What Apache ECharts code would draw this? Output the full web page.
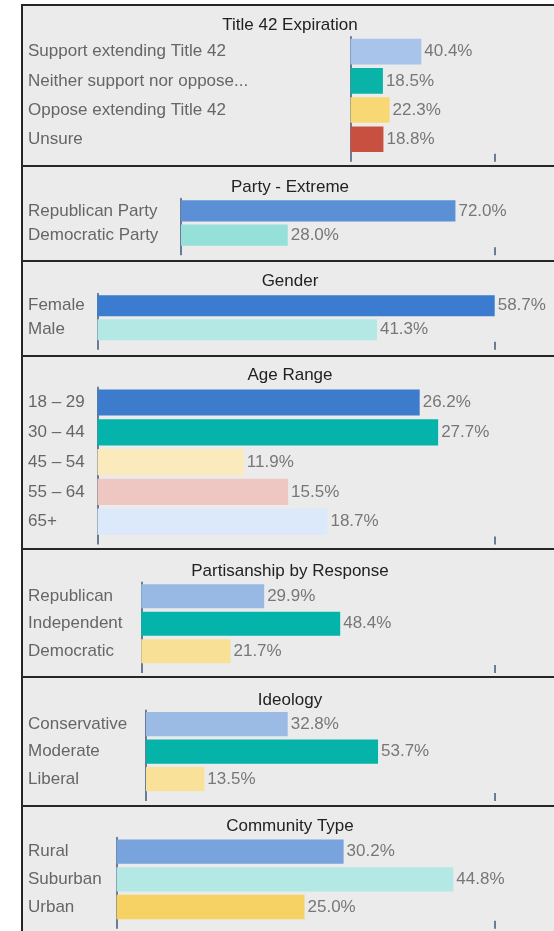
<!DOCTYPE html>
<html><head><meta charset="utf-8">
<script src="https://cdn.jsdelivr.net/npm/echarts@6/dist/echarts.min.js"></script>
<style>html,body{margin:0;padding:0;background:#fff}#c{width:554px;height:931px}</style>
</head><body><div id="c"></div>
<script>
// ---- data ----
const panelTitles = ["Title 42 Expiration","Party - Extreme","Gender","Age Range","Partisanship by Response","Ideology","Community Type"];

const title42Cats = ["Support extending Title 42","Neither support nor oppose...","Oppose extending Title 42","Unsure"];
const title42Vals = [40.4, 18.5, 22.3, 18.8];

const partyCats = ["Republican Party","Democratic Party"];
const partyVals = [72.0, 28.0];

const genderCats = ["Female","Male"];
const genderVals = [58.7, 41.3];

const ageCats = ["18 \u2013 29","30 \u2013 44","45 \u2013 54","55 \u2013 64","65+"];
const ageVals = [26.2, 27.7, 11.9, 15.5, 18.7];

const partisanCats = ["Republican","Independent","Democratic"];
const partisanVals = [29.9, 48.4, 21.7];

const ideologyCats = ["Conservative","Moderate","Liberal"];
const ideologyVals = [32.8, 53.7, 13.5];

const communityCats = ["Rural","Suburban","Urban"];
const communityVals = [30.2, 44.8, 25.0];

// ---- styles ----
const title42Colors = ["#a8c4ea","#0ab3a8","#f8d874","#c85040"];
const partyColors = ["#5b8fd6","#96e0da"];
const genderColors = ["#3b7bd0","#b3e8e4"];
const ageColors = ["#3d7ccc","#04b3a9","#fbeabb","#eec7c3","#dbe9fa"];
const partisanColors = ["#98b9e4","#04b3a9","#f8e196"];
const ideologyColors = ["#9bbae4","#05b3a8","#f9e19a"];
const communityColors = ["#78a3dc","#b3e8e4","#f6d264"];

// ---- layout ----
const panelTops = [5,166,261,356,549,677,806];
const gridLeft = [350.5,181,97.5,97.5,141.3,146,116.6];
const gridTop = [37.1,198.7,293.8,387.6,582.5,710.4,837.8];
const gridHeight = [116.7,48.6,48,149,82.5,82.6,83];
const axisMax = [82.3,82.3,58.7,32.3,86.0,80.7,50.3];
const titleY = [25,187.7,281,375.7,571,700,826.7];
const axisRight = 494.7;
const labelX = 28;
const FONT = "'Liberation Sans', Arial, sans-serif";

const cats = [title42Cats, partyCats, genderCats, ageCats, partisanCats, ideologyCats, communityCats];
const vals = [title42Vals, partyVals, genderVals, ageVals, partisanVals, ideologyVals, communityVals];
const cols = [title42Colors, partyColors, genderColors, ageColors, partisanColors, ideologyColors, communityColors];

const chart = echarts.init(document.getElementById('c'), null, {renderer:'canvas'});

const graphic = panelTops.map((t, i) => ({
  type: 'rect', silent: true, z: -10,
  shape: {x: 22, y: t, width: 600, height: (i < panelTops.length - 1 ? panelTops[i+1] : 1000) - t},
  style: {fill: '#ebebeb', stroke: '#262626', lineWidth: 2}
}));

const option = {
  animation: false,
  backgroundColor: '#ffffff',
  graphic: graphic,
  title: panelTitles.map((t, i) => ({
    text: t, left: 290, top: titleY[i] - 10, textAlign: 'center', padding: 0,
    textStyle: {fontSize: 17, fontWeight: 'normal', color: '#222', fontFamily: FONT, lineHeight: 20}
  })),
  grid: panelTitles.map((t, i) => ({
    left: gridLeft[i], top: gridTop[i], width: axisRight - gridLeft[i], height: gridHeight[i], containLabel: false
  })),
  xAxis: panelTitles.map((t, i) => ({
    type: 'value', gridIndex: i, min: 0, max: axisMax[i], interval: axisMax[i],
    axisLine: {show: false}, splitLine: {show: false}, axisLabel: {show: false},
    axisTick: {show: true, length: 8, lineStyle: {color: '#6b7b93', width: 2}}
  })),
  yAxis: panelTitles.map((t, i) => ({
    type: 'category', gridIndex: i, data: cats[i], inverse: true,
    axisLine: {show: true, lineStyle: {color: '#6b7b93', width: 2}},
    axisTick: {show: false},
    axisLabel: {align: 'left', margin: gridLeft[i] - labelX, color: '#666', fontSize: 17, fontFamily: FONT}
  })),
  series: panelTitles.map((t, i) => ({
    type: 'bar', xAxisIndex: i, yAxisIndex: i, barCategoryGap: '12%',
    data: vals[i].map((v, j) => ({value: v, itemStyle: {color: cols[i][j]}})),
    label: {show: true, position: 'right', distance: 3, color: '#777', fontSize: 17, fontFamily: FONT,
      formatter: p => p.value.toFixed(1) + '%'}
  }))
};
chart.setOption(option);
</script></body></html>
